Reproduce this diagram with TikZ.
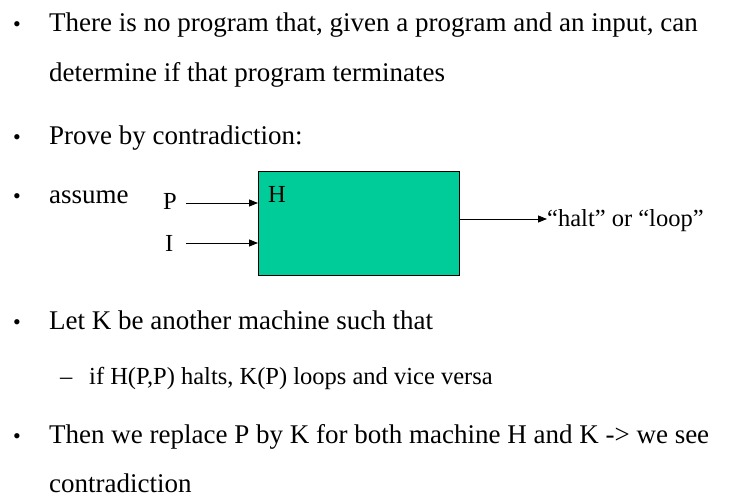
\documentclass[tikz,border=0pt]{standalone}
\usepackage{fontspec}
\setmainfont{Liberation Serif}
\usepackage{xcolor}
\usetikzlibrary{positioning, arrows.meta}
\definecolor{boxgreen}{RGB}{0,204,153}

\begin{document}
\begin{tikzpicture}[x=1pt,y=-1pt,
  line/.style={anchor=base west, inner sep=0, font=\fontsize{27}{32}\selectfont},
  subline/.style={anchor=base west, inner sep=0, font=\fontsize{24.5}{29}\selectfont},
  dot/.style={anchor=base, inner sep=0, font=\fontsize{22}{26}\selectfont},
  wire/.style={-{Triangle[length=9pt,width=7pt]}, line width=0.8pt}]
\useasboundingbox (0,0) rectangle (740,500);
% bullets
\node[dot] (b1) at (17,32) {\textbullet};
\node[line] (t1) at (49,32) {There is no program that, given a program and an input, can};
\node[line] (t1b) at (49,82) {determine if that program terminates};
\node[dot] (b2) at (17,145) {\textbullet};
\node[line] (t2) at (49,145) {Prove by contradiction:};
\node[dot] (b3) at (17,204) {\textbullet};
\node[line] (t3) at (49,204) {assume};
% the machine H
\node[draw, line width=1pt, fill=boxgreen, anchor=north west, minimum width=201, minimum height=104, inner sep=0] (H) at (258,171) {};
\node[subline] (h_lab) at (268,203) {H};
\node[subline] (p_in) at (163,210) {P};
\node[subline] (i_in) at (165,252) {I};
\node[subline] (out) at (547,227) {``halt'' or ``loop''};
\coordinate (p_end) at (186,203);
\coordinate (i_end) at (186,243);
\coordinate (o_start) at (459,219);
\draw[wire] (p_end) -- (p_end -| H.west);
\draw[wire] (i_end) -- (i_end -| H.west);
\draw[wire] (o_start) -- (o_start -| out.west);
% K
\node[dot] (b4) at (17,329) {\textbullet};
\node[line] (t4) at (49,329) {Let K be another machine such that};
\node[subline] (dash) at (60,384) {--};
\node[subline] (t4a) at (89,384) {if H(P,P) halts, K(P) loops and vice versa};
\node[dot] (b5) at (17,443) {\textbullet};
\node[line] (t5) at (49,443) {Then we replace P by K for both machine H and K -> we see};
\node[line] (t5b) at (49,492) {contradiction};
\end{tikzpicture}
\end{document}
